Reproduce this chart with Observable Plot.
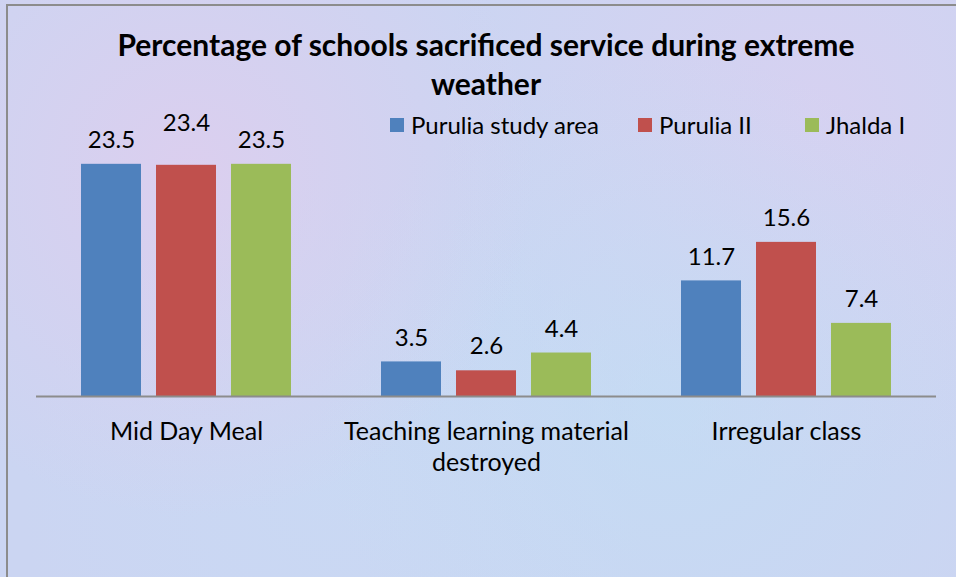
<!DOCTYPE html>
<html><head><meta charset="utf-8">
<script src="https://cdn.jsdelivr.net/npm/d3@7"></script>
<script src="https://cdn.jsdelivr.net/npm/@observablehq/plot@0.6"></script>
<style>
body{margin:0;background:#fff;}
#wrap{position:relative;width:956px;height:577px;overflow:hidden;font-family:Lato,"Open Sans",sans-serif;color:#000;
  background:
   radial-gradient(circle at 20% 30%, rgba(235,200,235,0.5), transparent 40%),
   radial-gradient(circle at 70% 70%, rgba(190,225,245,0.5), transparent 45%),
   radial-gradient(circle at 85% 20%, rgba(225,205,240,0.5), transparent 40%),
   radial-gradient(circle at 35% 85%, rgba(200,220,245,0.5), transparent 40%),
   #cbd5f2;}
#frame{position:absolute;left:6px;top:4px;width:980px;height:600px;border:2px solid #8c8c8c;box-sizing:border-box;pointer-events:none;}
#title{position:absolute;left:0;top:25px;width:972px;text-align:center;font-weight:bold;font-size:30px;line-height:39px;}
.lg{position:absolute;top:111px;font-size:24px;line-height:28px;display:flex;align-items:center;}
.lg span.sw{display:inline-block;width:14px;height:14px;margin-right:7px;}
#chart svg{position:absolute;left:0;top:0;overflow:visible;background:transparent;}
</style></head>
<body>
<div id="wrap">
  <div id="title">Percentage of schools sacrificed service during extreme<br>weather</div>
  <div id="legend"></div>
  <div id="chart"></div>
  <div id="frame"></div>
</div>
<script>
const categories = ["Mid Day Meal", "Teaching learning material\ndestroyed", "Irregular class"];
const seriesNames = ["Purulia study area", "Purulia II", "Jhalda I"];
const puruliaStudyArea = [23.5, 3.5, 11.7];
const puruliaII = [23.4, 2.6, 15.6];
const jhaldaI = [23.5, 4.4, 7.4];
const seriesColors = ["#4f81bd", "#c0504d", "#9bbb59"];

const seriesValues = [puruliaStudyArea, puruliaII, jhaldaI];
const data = [];
categories.forEach((c, i) => {
  seriesNames.forEach((s, j) => {
    data.push({category: c, series: s, value: seriesValues[j][i]});
  });
});

// legend
const legendX = [390, 638, 805];
const legend = document.getElementById("legend");
seriesNames.forEach((s, j) => {
  const d = document.createElement("div");
  d.className = "lg";
  d.style.left = legendX[j] + "px";
  d.innerHTML = `<span class="sw" style="background:${seriesColors[j]}"></span>${s}`;
  legend.appendChild(d);
});

const raised = d => d.series === "Purulia II" && d.category === "Mid Day Meal";

const chart = Plot.plot({
  width: 956,
  height: 577,
  marginTop: 149,
  marginLeft: 35,
  marginRight: 19,
  marginBottom: 181,
  style: {background: "transparent", fontFamily: "Lato, 'Open Sans', sans-serif", color: "#000"},
  fx: {domain: categories, padding: 0, label: null},
  x: {domain: seriesNames, axis: null, paddingInner: 0.2, paddingOuter: 0.6},
  y: {domain: [0, 25], axis: null},
  color: {domain: seriesNames, range: seriesColors},
  marks: [
    Plot.barY(data, {fx: "category", x: "series", y: "value", fill: "series"}),
    Plot.ruleY([0], {stroke: "#8c8c8c", strokeWidth: 2}),
    Plot.text(data.filter(d => !raised(d)), {fx: "category", x: "series", y: "value", text: d => d.value.toFixed(1), dy: -24, fontSize: 24, fill: "#000"}),
    Plot.text(data.filter(raised), {fx: "category", x: "series", y: "value", text: d => d.value.toFixed(1), dy: -42, fontSize: 24, fill: "#000"}),
    Plot.axisFx({anchor: "bottom", tickSize: 0, tickPadding: 21, fontSize: 25, lineHeight: 1.24, label: null, fill: "#000"})
  ]
});
document.getElementById("chart").appendChild(chart);
</script>
</body></html>
